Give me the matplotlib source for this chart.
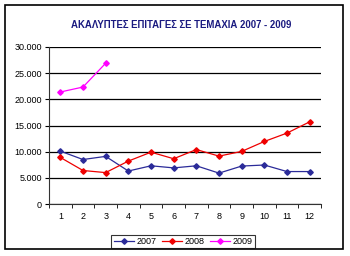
import matplotlib.pyplot as plt
import matplotlib.ticker as mticker
from matplotlib.patches import Rectangle

plt.rcParams['font.family'] = ['Liberation Sans', 'DejaVu Sans']

months = list(range(1, 13))
y2007 = [10100, 8500, 9100, 6300, 7300, 6900, 7300, 5900, 7250, 7450, 6200, 6200]
y2008 = [8900, 6400, 6000, 8200, 9900, 8650, 10400, 9150, 10050, 11950, 13550, 15700]
y2009 = [21400, 22350, 26900]
labels = ['2007', '2008', '2009']
colors = ['#2b2b99', '#ee0000', '#ff00ff']

fig = plt.figure(figsize=(3.5, 2.56), dpi=100)
fig.patch.set_facecolor('white')
fig.patches.append(Rectangle((5 / 350, 1 - 249 / 256), 338 / 350, 244 / 256,
                             transform=fig.transFigure, fill=False,
                             edgecolor='black', linewidth=1.2))

ax = fig.add_axes([49 / 350, 1 - 204 / 256, 272 / 350, 157 / 256])

for data, lab, col in zip([y2007, y2008, y2009], labels, colors):
    ax.plot(months[:len(data)], data, color=col, lw=0.9, marker='D',
            markersize=2.8, label=lab)

ax.set_xlim(0.5, 12.5)
ax.set_ylim(0, 30000)
ax.yaxis.set_major_locator(mticker.MultipleLocator(5000))
ax.yaxis.set_major_formatter(mticker.FuncFormatter(
    lambda v, p: '{:,.0f}'.format(v).replace(',', '.')))
ax.set_xticks(months)
ax.set_xticks([m + 0.5 for m in range(0, 13)], minor=True)
ax.tick_params(axis='x', which='major', length=0, labelsize=6.5, pad=6)
ax.tick_params(axis='x', which='minor', length=3, direction='out')
ax.tick_params(axis='y', length=3, direction='out', labelsize=6.5, pad=2)
ax.grid(axis='y', color='black', lw=0.9)
ax.set_axisbelow(True)
for s in ['top', 'right']:
    ax.spines[s].set_visible(False)
for s in ['left', 'bottom']:
    ax.spines[s].set_color('#333333')

fig.text(181 / 350, 1 - 25 / 256, 'ΑΚΑΛΥΠΤΕΣ ΕΠΙΤΑΓΕΣ ΣΕ ΤΕΜΑΧΙΑ 2007 - 2009',
         ha='center', va='center', fontsize=6.9, fontweight='bold',
         color='#1a1a80')

leg = fig.legend(loc='center', bbox_to_anchor=(183 / 350, 1 - 241.5 / 256),
                 ncol=3, fontsize=6.5, frameon=True, fancybox=False,
                 edgecolor='black', handlelength=2.2, handletextpad=0.3,
                 columnspacing=0.6, borderpad=0.25, borderaxespad=0)
leg.get_frame().set_linewidth(0.8)

fig.savefig('out.png', dpi=100)
